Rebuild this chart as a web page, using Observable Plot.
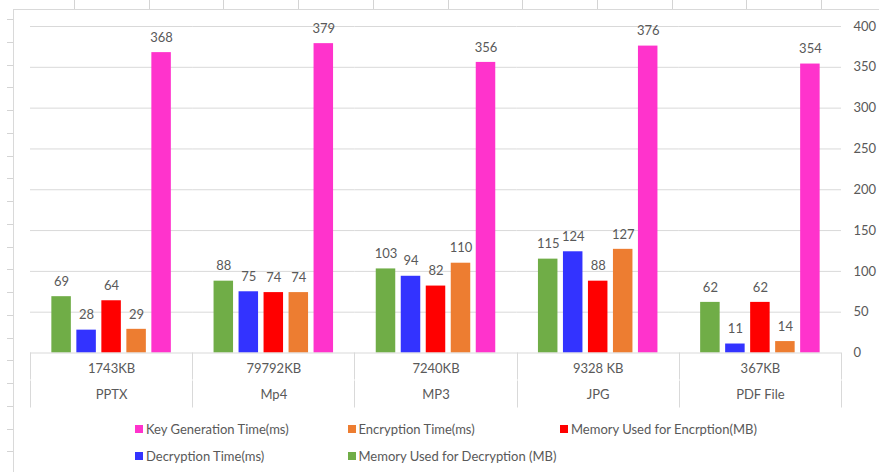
<!DOCTYPE html>
<html><head><meta charset="utf-8">
<script src="https://cdn.jsdelivr.net/npm/d3@7"></script>
<script src="https://cdn.jsdelivr.net/npm/@observablehq/plot@0.6"></script>
<style>
body{margin:0;background:#fff;}
#wrap{position:relative;width:879px;height:472px;overflow:hidden;font-family:Lato,sans-serif;color:#595959;background:#fff;}
#bg{position:absolute;left:0;top:0;}
#chart{position:absolute;left:0;top:0;}
.leg{position:absolute;display:flex;align-items:center;font-size:13px;color:#595959;white-space:nowrap;transform:translateY(-50%);}
.leg span.sw{display:inline-block;width:8px;height:8px;margin-right:3px;}
</style></head><body>
<div id="wrap"><svg id="bg" width="879" height="472"></svg><div id="chart"></div><div id="legend"></div></div>
<script>
const fileTypes = ["PPTX", "Mp4", "MP3", "JPG", "PDF File"];
const fileSizes = ["1743KB", "79792KB", "7240KB", "9328 KB", "367KB"];
const seriesNames = ["Memory Used for Decryption (MB)", "Decryption Time(ms)", "Memory Used for Encrption(MB)", "Encryption Time(ms)", "Key Generation Time(ms)"];
const memDecryption = [69, 88, 103, 115, 62];
const decryptionTime = [28, 75, 94, 124, 11];
const memEncryption = [64, 74, 82, 88, 62];
const encryptionTime = [29, 74, 110, 127, 14];
const keyGenTime = [368, 379, 356, 376, 354];
const seriesColors = ["#70AD47", "#3333FF", "#FF0000", "#ED7D31", "#FF33CC"];
const legendOrder = ["Key Generation Time(ms)", "Encryption Time(ms)", "Memory Used for Encrption(MB)", "Decryption Time(ms)", "Memory Used for Decryption (MB)"];
const yTicks = [0, 50, 100, 150, 200, 250, 300, 350, 400];

const seriesValues = [memDecryption, decryptionTime, memEncryption, encryptionTime, keyGenTime];
const rows = [];
fileTypes.forEach((t, i) => seriesNames.forEach((s, j) => rows.push({type: t, series: s, value: seriesValues[j][i]})));

const plot = Plot.plot({
  width: 879, height: 410,
  marginLeft: 30, marginRight: 38, marginTop: 26, marginBottom: 57.5,
  style: {fontFamily: "Lato, sans-serif", color: "#595959", background: "transparent", overflow: "visible"},
  fx: {domain: fileTypes, padding: 0, round: false, axis: null},
  x: {domain: seriesNames, paddingInner: 0.22, paddingOuter: 0.854, round: false, axis: null},
  y: {domain: [0, 400], axis: null},
  color: {domain: seriesNames, range: seriesColors},
  marks: [
    Plot.gridY(yTicks.filter(t => t > 0), {stroke: "#d9d9d9", strokeOpacity: 1}),
    Plot.axisY(yTicks, {anchor: "right", tickSize: 0, tickPadding: 12, label: null, fill: "#595959", fontSize: 13}),
    Plot.barY(rows, {fx: "type", x: "series", y: "value", fill: "series"}),
    Plot.text(rows, {fx: "type", x: "series", y: "value", text: d => String(d.value), dy: -15, fill: "#595959", fontSize: 13}),
    Plot.text(fileTypes, {fx: d => d, text: (d, i) => fileSizes[i], frameAnchor: "bottom", dy: 19.5, fill: "#595959", fontSize: 13}),
    Plot.text(fileTypes, {fx: d => d, text: d => d, frameAnchor: "bottom", dy: 45.5, fill: "#595959", fontSize: 13})
  ]
});
document.getElementById("chart").appendChild(plot);

// category axis box
const fx = plot.scale("fx");
const y0 = plot.scale("y").apply(0);
const svg = d3.select(plot);
const g = svg.append("g").attr("stroke", "#d9d9d9").attr("stroke-width", 1);
g.append("line").attr("x1", fx.range[0]).attr("x2", fx.range[1]).attr("y1", y0 + 0.5).attr("y2", y0 + 0.5);
const edges = fileTypes.map(d => fx.apply(d)).concat([fx.range[1]]);
edges.forEach(x => {
  g.append("line").attr("x1", Math.round(x) + 0.5).attr("x2", Math.round(x) + 0.5).attr("y1", y0).attr("y2", y0 + 27);
  g.append("line").attr("x1", Math.round(x) + 0.5).attr("x2", Math.round(x) + 0.5).attr("y1", y0 + 28).attr("y2", y0 + 55);
});

// spreadsheet background decorations
const bg = d3.select("#bg");
for (let k = 0; k < 12; k++) {
  const x = Math.round(74 + 74.7 * k) + 0.5;
  bg.append("line").attr("x1", x).attr("x2", x).attr("y1", 0).attr("y2", 9).attr("stroke", "#d4d4d4");
}
for (let k = 0; k < 21; k++) {
  const y = Math.round(19 + 22.75 * k) + 0.5;
  bg.append("line").attr("x1", 7).attr("x2", 13).attr("y1", y).attr("y2", y).attr("stroke", "#d4d4d4");
}
bg.append("line").attr("x1", 13).attr("x2", 879).attr("y1", 9.5).attr("y2", 9.5).attr("stroke", "#d9d9d9");
bg.append("line").attr("x1", 13.5).attr("x2", 13.5).attr("y1", 9).attr("y2", 472).attr("stroke", "#d9d9d9");

// legend
const colorOf = s => seriesColors[seriesNames.indexOf(s)];
const leg = document.getElementById("legend");
legendOrder.forEach((s, i) => {
  const col = i % 3, row = Math.floor(i / 3);
  const d = document.createElement("div");
  d.className = "leg";
  d.style.left = (135 + col * 212.5) + "px";
  d.style.top = (429 + row * 26.7) + "px";
  d.innerHTML = `<span class="sw" style="background:${colorOf(s)}"></span><span>${s}</span>`;
  leg.appendChild(d);
});
</script>
</body></html>
